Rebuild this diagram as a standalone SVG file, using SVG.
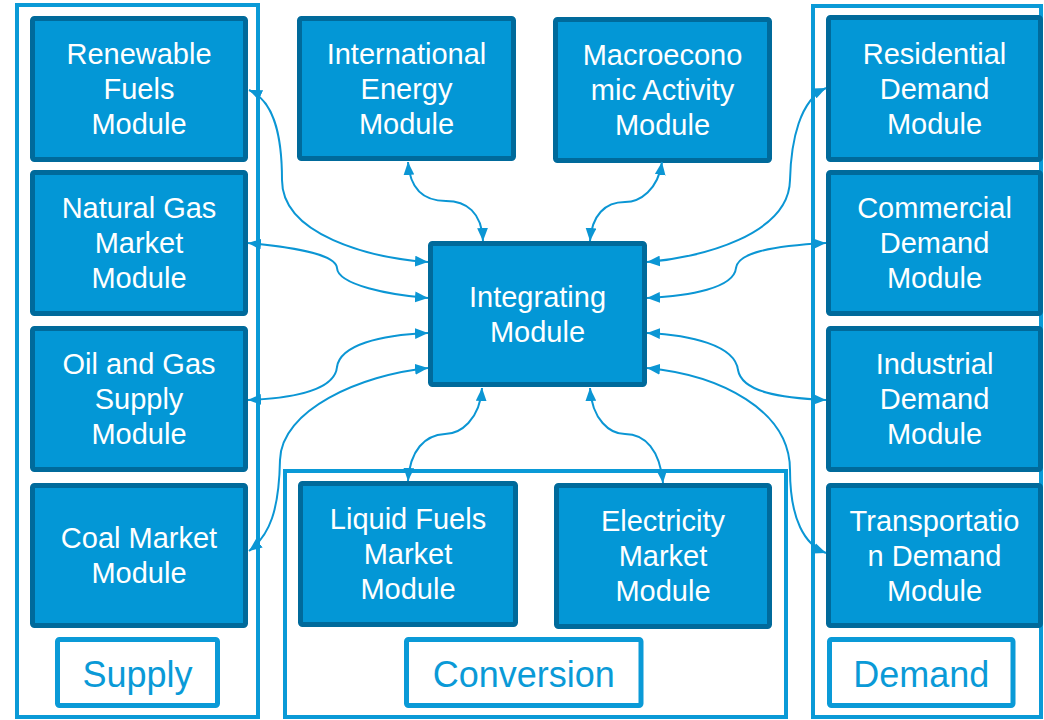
<svg xmlns="http://www.w3.org/2000/svg" width="1044" height="720" viewBox="0 0 1044 720">
  <defs>
    <style>
      .frame { fill: none; stroke: #0a9ad7; stroke-width: 4; }
      .tag { fill: #ffffff; stroke: #0a9ad7; stroke-width: 5; }
      .tag-text { fill: #0a9ad7; font-family: "Liberation Sans", Arial, sans-serif; font-size: 36px; text-anchor: middle; }
      .box { fill: #0397d6; stroke: #006a9b; stroke-width: 5; }
      .label { fill: #ffffff; font-family: "Liberation Sans", Arial, sans-serif; font-size: 29px; text-anchor: middle; }
      .link { fill: none; stroke: #0b96d4; stroke-width: 2; marker-start: url(#ah); marker-end: url(#ah); }
    </style>
    <marker id="ah" viewBox="0 0 12 10" refX="12" refY="5" markerWidth="13" markerHeight="11" orient="auto-start-reverse" markerUnits="userSpaceOnUse">
      <path d="M0,0 L12,5 L0,10 z" fill="#0b96d4"/>
    </marker>
  </defs>

  <!-- category frames -->
  <g id="frames">
    <g id="supply-frame">
      <rect class="frame" x="17" y="5" width="241" height="712"/>
      <rect class="tag" x="57.5" y="639.5" width="160" height="66" rx="2"/>
      <text class="tag-text" x="137.5" y="687">Supply</text>
    </g>
    <g id="conversion-frame">
      <rect class="frame" x="285" y="471" width="501" height="246"/>
      <rect class="tag" x="406.5" y="639.5" width="234.5" height="66" rx="2"/>
      <text class="tag-text" x="523.75" y="687">Conversion</text>
    </g>
    <g id="demand-frame">
      <rect class="frame" x="813" y="6" width="228" height="711"/>
      <rect class="tag" x="829.5" y="639.5" width="183.5" height="66" rx="2"/>
      <text class="tag-text" x="921.25" y="687">Demand</text>
    </g>
  </g>

  <!-- modules -->
  <g id="renewable">
    <rect class="box" x="32.5" y="18.5" width="213" height="141" rx="2"/>
    <text class="label" x="139" y="64.4">Renewable</text>
    <text class="label" x="139" y="99.4">Fuels</text>
    <text class="label" x="139" y="134.4">Module</text>
  </g>
  <g id="natural-gas">
    <rect class="box" x="32.5" y="172.5" width="213" height="141" rx="2"/>
    <text class="label" x="139" y="218.4">Natural Gas</text>
    <text class="label" x="139" y="253.4">Market</text>
    <text class="label" x="139" y="288.4">Module</text>
  </g>
  <g id="oil-gas">
    <rect class="box" x="32.5" y="328.5" width="213" height="141" rx="2"/>
    <text class="label" x="139" y="374.4">Oil and Gas</text>
    <text class="label" x="139" y="409.4">Supply</text>
    <text class="label" x="139" y="444.4">Module</text>
  </g>
  <g id="coal">
    <rect class="box" x="32.5" y="485.5" width="213" height="140" rx="2"/>
    <text class="label" x="139" y="548.4">Coal Market</text>
    <text class="label" x="139" y="583.4">Module</text>
  </g>
  <g id="international">
    <rect class="box" x="299.5" y="18.5" width="214" height="140" rx="2"/>
    <text class="label" x="406.5" y="63.9">International</text>
    <text class="label" x="406.5" y="98.9">Energy</text>
    <text class="label" x="406.5" y="133.9">Module</text>
  </g>
  <g id="macroeconomic">
    <rect class="box" x="555.5" y="19.5" width="214" height="141" rx="2"/>
    <text class="label" x="662.5" y="65.4">Macroecono</text>
    <text class="label" x="662.5" y="100.4">mic Activity</text>
    <text class="label" x="662.5" y="135.4">Module</text>
  </g>
  <g id="integrating">
    <rect class="box" x="430.5" y="243.5" width="214" height="141" rx="2"/>
    <text class="label" x="537.5" y="306.9">Integrating</text>
    <text class="label" x="537.5" y="341.9">Module</text>
  </g>
  <g id="liquid-fuels">
    <rect class="box" x="300.5" y="483.5" width="215" height="141" rx="2"/>
    <text class="label" x="408" y="529.4">Liquid Fuels</text>
    <text class="label" x="408" y="564.4">Market</text>
    <text class="label" x="408" y="599.4">Module</text>
  </g>
  <g id="electricity">
    <rect class="box" x="556.5" y="485.5" width="213" height="141" rx="2"/>
    <text class="label" x="663" y="531.4">Electricity</text>
    <text class="label" x="663" y="566.4">Market</text>
    <text class="label" x="663" y="601.4">Module</text>
  </g>
  <g id="residential">
    <rect class="box" x="828.5" y="17.5" width="212" height="142" rx="2"/>
    <text class="label" x="934.5" y="63.9">Residential</text>
    <text class="label" x="934.5" y="98.9">Demand</text>
    <text class="label" x="934.5" y="133.9">Module</text>
  </g>
  <g id="commercial">
    <rect class="box" x="828.5" y="172.5" width="212" height="141" rx="2"/>
    <text class="label" x="934.5" y="218.4">Commercial</text>
    <text class="label" x="934.5" y="253.4">Demand</text>
    <text class="label" x="934.5" y="288.4">Module</text>
  </g>
  <g id="industrial">
    <rect class="box" x="828.5" y="328.5" width="212" height="141" rx="2"/>
    <text class="label" x="934.5" y="374.4">Industrial</text>
    <text class="label" x="934.5" y="409.4">Demand</text>
    <text class="label" x="934.5" y="444.4">Module</text>
  </g>
  <g id="transportation">
    <rect class="box" x="828.5" y="485.5" width="212" height="140" rx="2"/>
    <text class="label" x="934.5" y="530.9">Transportatio</text>
    <text class="label" x="934.5" y="565.9">n Demand</text>
    <text class="label" x="934.5" y="600.9">Module</text>
  </g>

  <!-- two-way links to the integrating module -->
  <g id="connectors">
    <path class="link" d="M249 90 C272 100 282 130 282 180 C282 235 370 258 428 262"/>
    <path class="link" d="M248 243 C300 248 336 255 337 268 C338 285 390 295 428 298"/>
    <path class="link" d="M248 400 C300 398 335 388 337 367 C340 345 380 335 428 333"/>
    <path class="link" d="M249 551 C270 535 279 510 280 460 C281 410 360 375 428 368"/>
    <path class="link" d="M826 88 C800 100 791 140 790 180 C789 235 700 258 647 262"/>
    <path class="link" d="M826 243 C770 246 738 253 736 268 C734 288 690 296 647 298"/>
    <path class="link" d="M826 400 C780 398 742 392 738 370 C735 345 690 335 647 333"/>
    <path class="link" d="M647 368 C720 375 790 410 790 470 C790 520 805 545 826 553"/>
    <path class="link" d="M408 162 C410 190 425 201 446 201 C466 201 482 212 483 241"/>
    <path class="link" d="M662 162 C658 190 640 202 625 202 C605 202 592 215 590 241"/>
    <path class="link" d="M482 388 C480 420 460 434 445 434 C425 435 410 450 408 481"/>
    <path class="link" d="M590 388 C592 420 610 434 625 434 C645 434 660 450 663 483"/>
  </g>
</svg>
